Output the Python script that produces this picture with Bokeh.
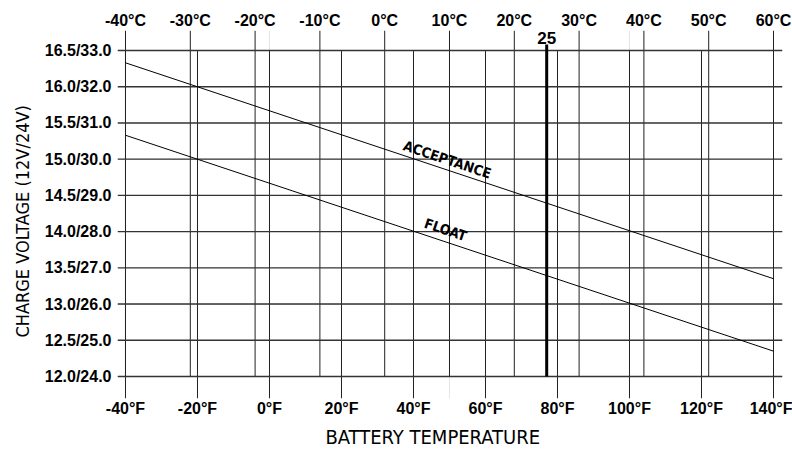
import math
from bokeh.plotting import figure
from bokeh.models import Range1d, FixedTicker, LinearAxis, Label, Title
from bokeh.core.properties import value
from bokeh.embed import file_html
from bokeh.resources import INLINE

# ---------------- data ----------------
F_TICKS = [-40, -20, 0, 20, 40, 60, 80, 100, 120, 140]
C_TICKS = [-40, -30, -20, -10, 0, 10, 20, 30, 40, 50, 60]
V12_TICKS = [12.0, 12.5, 13.0, 13.5, 14.0, 14.5, 15.0, 15.5, 16.0, 16.5]
V24_LABELS = [24.0, 25.0, 26.0, 27.0, 28.0, 29.0, 30.0, 31.0, 32.0, 33.0]
CURVE_TEMP_F = [-40, 140]
ACCEPTANCE_V = [16.33, 13.35]
FLOAT_V = [15.33, 12.35]
MARKER_C = 25

TICK_FONT = "Liberation Sans"
TITLE_FONT = "DejaVu Sans Condensed"


def c_to_f(c):
    return c * 9 / 5 + 32


# ---------------- layout ----------------
W, H = 792, 453
BL, BR, BT, BB = 117, 10, 30, 55
FRAME_W = W - BL - BR
FRAME_H = H - BT - BB
X_START, X_END = -42.222, 142.5
Y_START, Y_END = 11.6963, 16.776
PX_X = FRAME_W / (X_END - X_START)
PX_Y = FRAME_H / (Y_END - Y_START)

p = figure(width=W, height=H, output_backend="svg", toolbar_location=None,
           x_range=Range1d(X_START, X_END), y_range=Range1d(Y_START, Y_END),
           x_axis_location=None, y_axis_location=None,
           min_border_left=BL, min_border_right=BR,
           min_border_top=BT, min_border_bottom=BB)
p.outline_line_color = None
p.background_fill_color = "white"
p.border_fill_color = "white"

vmin, vmax = min(V12_TICKS), max(V12_TICKS)
GRID = "#222222"

# Fahrenheit verticals (extend below the chart)
p.segment(x0=F_TICKS, x1=F_TICKS, y0=[Y_START] * len(F_TICKS), y1=[vmax] * len(F_TICKS),
          line_color=GRID, line_width=1)
# Celsius verticals (extend above the chart)
cf = [c_to_f(c) for c in C_TICKS]
p.segment(x0=cf, x1=cf, y0=[vmin] * len(cf), y1=[Y_END] * len(cf),
          line_color=GRID, line_width=1)
# horizontals
p.segment(x0=[X_START] * len(V12_TICKS), x1=[X_END] * len(V12_TICKS),
          y0=V12_TICKS, y1=V12_TICKS, line_color="#333333", line_width=1.4)
# 25 C marker
mf = c_to_f(MARKER_C)
p.segment(x0=[mf], x1=[mf], y0=[vmin], y1=[vmax + 6 / PX_Y], line_color="black", line_width=3)
p.add_layout(Label(x=mf, y=vmax, y_offset=12, text=str(MARKER_C), text_align="center",
                   text_baseline="alphabetic", text_font=TICK_FONT, text_font_style="bold",
                   text_font_size="17px", text_color="black"))

# curves
p.line(CURVE_TEMP_F, ACCEPTANCE_V, line_color="black", line_width=1)
p.line(CURVE_TEMP_F, FLOAT_V, line_color="black", line_width=1)

ang = -math.atan(((ACCEPTANCE_V[0] - ACCEPTANCE_V[1]) * PX_Y) /
                 ((CURVE_TEMP_F[1] - CURVE_TEMP_F[0]) * PX_X))


def on_line(ys, x):
    t = (x - CURVE_TEMP_F[0]) / (CURVE_TEMP_F[1] - CURVE_TEMP_F[0])
    return ys[0] + t * (ys[1] - ys[0])


p.text(x=[49.4], y=[on_line(ACCEPTANCE_V, 49.4) + 0.145], text=["ACCEPTANCE"], angle=ang,
       text_align="center", text_baseline="middle", text_font=value(TITLE_FONT),
       text_font_style="bold", text_font_size="14px", text_color="black")
p.text(x=[48.9], y=[on_line(FLOAT_V, 48.9) + 0.17], text=["FLOAT"], angle=ang,
       text_align="center", text_baseline="middle", text_font=value(TITLE_FONT),
       text_font_style="bold", text_font_size="14px", text_color="black")


def style_axis(ax, standoff):
    ax.axis_line_color = None
    ax.major_tick_line_color = None
    ax.minor_tick_line_color = None
    ax.major_tick_in = 0
    ax.major_tick_out = 0
    ax.minor_tick_in = 0
    ax.minor_tick_out = 0
    ax.major_label_standoff = standoff
    ax.major_label_text_font = TICK_FONT
    ax.major_label_text_font_style = "bold"
    ax.major_label_text_font_size = "16px"
    ax.major_label_text_color = "black"


bottom = LinearAxis(ticker=FixedTicker(ticks=F_TICKS),
                    major_label_overrides={f: f"{f}\u00b0F" for f in F_TICKS})
style_axis(bottom, 1)
p.add_layout(bottom, "below")

top = LinearAxis(ticker=FixedTicker(ticks=[int(c_to_f(c)) for c in C_TICKS]),
                 major_label_overrides={int(c_to_f(c)): f"{c}\u00b0C" for c in C_TICKS})
style_axis(top, 2)
p.add_layout(top, "above")

left = LinearAxis(ticker=FixedTicker(ticks=V12_TICKS),
                  major_label_overrides={v: f"{v:.1f}/{v2:.1f}" for v, v2 in zip(V12_TICKS, V24_LABELS)})
style_axis(left, 6)
p.add_layout(left, "left")

# axis titles as panel titles so they can be offset like the original
p.add_layout(Title(text="BATTERY TEMPERATURE", align="left", offset=208, standoff=6,
                   text_font=TITLE_FONT, text_font_size="20px", text_font_style="normal",
                   text_color="black"), "below")
p.add_layout(Title(text="CHARGE VOLTAGE (12V/24V)", align="left", offset=61, standoff=17,
                   text_font=TITLE_FONT, text_font_size="18px", text_font_style="normal",
                   text_color="black"), "left")

open("out.html", "w").write(file_html(p, INLINE))
